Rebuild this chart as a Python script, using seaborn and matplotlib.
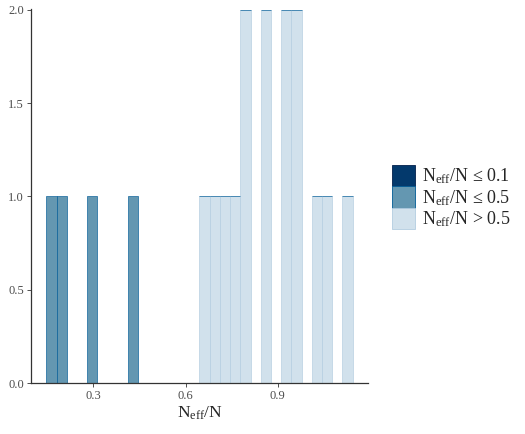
import matplotlib
matplotlib.use("Agg")
import matplotlib.pyplot as plt
from matplotlib.patches import Patch
import numpy as np
import pandas as pd
import seaborn as sns

# N_eff / N ratios
ratio_mid = [0.164, 0.197, 0.297, 0.430]
ratio_light = [0.662, 0.695, 0.728, 0.761, 0.790, 0.800, 0.858, 0.865,
               0.922, 0.930, 0.958, 0.964, 1.027, 1.060, 1.127]

group_labels = ["N$_{\\mathrm{eff}}$/N ≤ 0.1",
                "N$_{\\mathrm{eff}}$/N ≤ 0.5",
                "N$_{\\mathrm{eff}}$/N > 0.5"]
fill_colors = ["#03396c", "#6497b1", "#d1e1ec"]
edge_colors = ["#011f4b", "#005b96", "#b3cde0"]

df = pd.DataFrame({
    "ratio": ratio_mid + ratio_light,
    "group": [group_labels[1]] * len(ratio_mid) + [group_labels[2]] * len(ratio_light),
})

sns.set_style("white")
plt.rcParams["font.family"] = ["Liberation Serif", "DejaVu Serif"]
plt.rcParams["mathtext.fontset"] = "custom"
plt.rcParams["mathtext.rm"] = "Liberation Serif"
plt.rcParams["mathtext.it"] = "Liberation Serif:italic"

# 30 bins, first centred on min, last on max (ggplot style)
lo, hi = min(df["ratio"]), max(df["ratio"])
w = (hi - lo) / 29
edges = np.linspace(lo - w / 2, hi + w / 2, 31)

fig = plt.figure(figsize=(5.25, 4.34), dpi=100)
ax = fig.add_axes([31 / 525, 1 - 383 / 434, 337 / 525, 374 / 434])

sns.histplot(data=df, x="ratio", hue="group", hue_order=group_labels[1:],
             palette=dict(zip(group_labels, fill_colors)), multiple="stack",
             bins=edges, alpha=1, linewidth=0.45, legend=False, ax=ax)

# per-group outline colours
col_map = {tuple(np.round(matplotlib.colors.to_rgba(f), 3)): e
           for f, e in zip(fill_colors, edge_colors)}
for cont in ax.containers:
    for p in cont.patches:
        key = tuple(np.round(p.get_facecolor(), 3))
        if key in col_map:
            p.set_edgecolor(col_map[key])

span = edges[-1] - edges[0]
ax.set_xlim(edges[0] - 0.05 * span, edges[-1] + 0.05 * span)
ax.set_ylim(0, 2.005)
ax.set_xticks([0.3, 0.6, 0.9])
ax.set_xticklabels(["0.3", "0.6", "0.9"])
ax.set_yticks([0, 0.5, 1.0, 1.5, 2.0])
ax.set_yticklabels(["0.0", "0.5", "1.0", "1.5", "2.0"])
ax.tick_params(axis="both", length=3, width=0.6, color="#333333",
               labelsize=9, labelcolor="#4d4d4d", pad=2, direction="out",
               bottom=True, left=True)
sns.despine(ax=ax)
for s in ("left", "bottom"):
    ax.spines[s].set_color("#333333")
    ax.spines[s].set_linewidth(0.9)
ax.set_xlabel("N$_{\\mathrm{eff}}$/N", fontsize=12.5, labelpad=2)
ax.set_ylabel("")
ax.grid(False)

handles = [Patch(facecolor=f, edgecolor=e, linewidth=0.6)
           for f, e in zip(fill_colors, edge_colors)]
fig.legend(handles, group_labels, loc="upper left", bbox_to_anchor=(390 / 525, 1 - 163 / 434),
           frameon=False, fontsize=13, handlelength=1.3, handleheight=1.45,
           handletextpad=0.4, labelspacing=0.0, borderaxespad=0, borderpad=0.1)

fig.savefig("out.png", dpi=100)
